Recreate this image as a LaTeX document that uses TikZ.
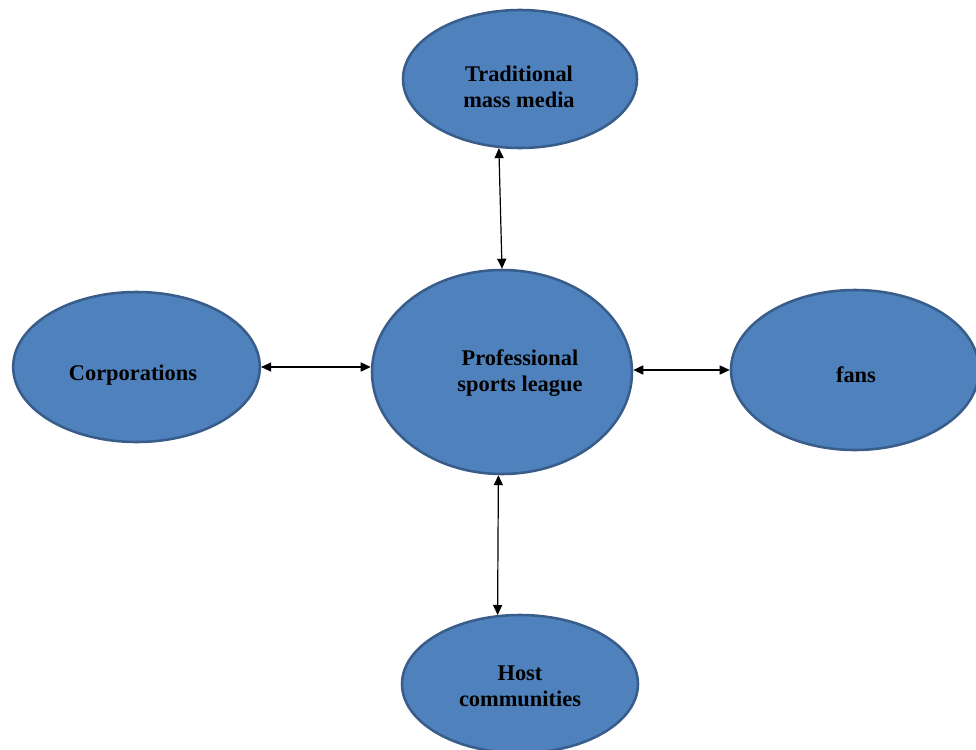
\documentclass[tikz,border=0pt]{standalone}
\usepackage{fontspec}
\setmainfont{Liberation Serif}
\usetikzlibrary{shapes.geometric,arrows.meta}
\definecolor{ovalfill}{HTML}{4F81BD}
\definecolor{ovalline}{HTML}{385D8A}
\begin{document}
\begin{tikzpicture}[x=0.75pt,y=-0.75pt,
  oval/.style={ellipse,draw=ovalline,fill=ovalfill,line width=1.9pt,inner sep=0pt},
  lbl/.style={align=center,font=\bfseries\fontsize{16.8}{19.5}\selectfont,text=black},
  link/.style={{Triangle[length=7.5pt,width=6.8pt]}-{Triangle[length=7.5pt,width=6.8pt]},line width=0.9pt,black}]
\useasboundingbox[fill=white] (0,0) rectangle (976,750);
% the five actors
\node[oval,minimum width=175.5pt,minimum height=103.5pt] (media) at (520,79) {};
\node[oval,minimum width=185pt,minimum height=112.5pt] (corp) at (136.5,367) {};
\node[oval,minimum width=195pt,minimum height=153pt] (league) at (502,372) {};
\node[oval,minimum width=186pt,minimum height=120pt] (fans) at (855,370) {};
\node[oval,minimum width=177pt,minimum height=103.5pt] (host) at (520,684) {};
% their labels
\node[lbl] (tmedia) at (519,87) {Traditional\\mass media};
\node[lbl] (tcorp) at (133,375) {Corporations};
\node[lbl] (tleague) at (520,373) {Professional\\sports league};
\node[lbl] (tfans) at (856,375) {fans};
\node[lbl] (thost) at (520,686) {Host\\communities};
% two-way relations with the league
\draw[link] (media.253) -- (league.north);
\draw[link] (corp.east) -- (corp.east -| league.west);
\draw[link] (league.east |- fans.west) -- (fans.west);
\draw[link] (league.268) -- (host.108);
\end{tikzpicture}
\end{document}
